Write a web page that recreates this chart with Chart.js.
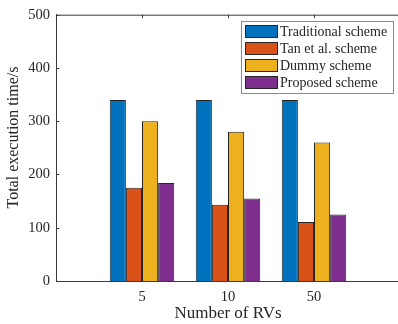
<!DOCTYPE html>
<html>
<head>
<meta charset="utf-8">
<script src="https://cdn.jsdelivr.net/npm/chart.js@4"></script>
<style>
  html, body { margin: 0; padding: 0; background: #fff; overflow: hidden; }
  #wrap { width: 407px; height: 324px; }
</style>
</head>
<body>
<div id="wrap"><canvas id="myChart" width="407" height="324"></canvas></div>
<script>
// data
const categories = ['5', '10', '50'];
const seriesNames = ['Traditional scheme', 'Tan et al. scheme', 'Dummy scheme', 'Proposed scheme'];
const traditional = [340, 340, 340];
const tanEtAl = [175, 143, 111];
const dummy = [300, 280, 260];
const proposed = [184, 155, 125];
const yTicks = [0, 100, 200, 300, 400, 500];

const colors = ['#0072BD', '#D95319', '#EDB120', '#7E2F8E'];
const axisColor = '#3a3a3a';
const textColor = '#262626';
const serif = '"Liberation Serif", "Times New Roman", serif';

// empty slots at both ends, like matlab's x limits (right end runs off the window)
const pad = arr => [null, ...arr, null];
const labels = ['', ...categories, ''];

const datasets = [traditional, tanEtAl, dummy, proposed].map((vals, i) => ({
    label: seriesNames[i],
    data: pad(vals),
    backgroundColor: colors[i],
    borderColor: '#262626',
    borderWidth: 1,
    borderSkipped: 'start',
    inflateAmount: 0,
    categoryPercentage: 0.75,
    barPercentage: 1.0,
}));

// box top line, inward ticks, y label and the boxed legend
const matlabAxes = {
    id: 'matlabAxes',
    afterDraw(chart) {
        const { ctx, chartArea: a, scales } = chart;
        ctx.save();
        ctx.strokeStyle = axisColor;
        ctx.lineWidth = 1;
        ctx.beginPath();
        ctx.moveTo(a.left, a.top + 0.5);
        ctx.lineTo(a.right, a.top + 0.5);
        yTicks.forEach(v => {
            const y = Math.round(scales.y.getPixelForValue(v)) + 0.5;
            ctx.moveTo(a.left, y);
            ctx.lineTo(a.left + 3.5, y);
        });
        categories.forEach((c, i) => {
            const x = Math.round(scales.x.getPixelForValue(i + 1)) + 0.5;
            ctx.moveTo(x, a.top);
            ctx.lineTo(x, a.top + 3.5);
        });
        ctx.stroke();

        // y label, matlab puts it a bit above the middle
        ctx.save();
        ctx.translate(13.5, 137.5);
        ctx.rotate(-Math.PI / 2);
        ctx.font = '16px ' + serif;
        ctx.fillStyle = textColor;
        ctx.textAlign = 'center';
        ctx.textBaseline = 'middle';
        ctx.fillText('Total execution time/s', 0, 0);
        ctx.restore();

        // legend
        const lx = 241.5, ly = 21.5, lw = 152, lh = 72;
        ctx.fillStyle = '#fff';
        ctx.fillRect(lx, ly, lw, lh);
        ctx.strokeStyle = '#8a8a8a';
        ctx.strokeRect(lx, ly, lw, lh);
        ctx.font = '14px ' + serif;
        ctx.textBaseline = 'middle';
        chart.data.datasets.forEach((ds, i) => {
            const y = 25 + i * 17;
            ctx.fillStyle = ds.backgroundColor;
            ctx.fillRect(245, y, 33, 13);
            ctx.strokeStyle = '#262626';
            ctx.strokeRect(245.5, y + 0.5, 32, 12);
            ctx.fillStyle = textColor;
            ctx.fillText(ds.label, 280, y + 7);
        });
        ctx.restore();
    }
};

const ctx = document.getElementById('myChart').getContext('2d');
const myChart = new Chart(ctx, {
    type: 'bar',
    data: { labels, datasets },
    options: {
        responsive: false,
        animation: false,
        layout: { padding: { top: 13, right: 0, left: 0, bottom: 0 } },
        plugins: {
            legend: { display: false },
            tooltip: { enabled: false },
        },
        scales: {
            x: {
                offset: false,
                grid: { display: false, drawTicks: false },
                border: { display: true, color: axisColor, width: 1 },
                ticks: {
                    color: textColor,
                    font: { family: serif, size: 14.5 },
                    padding: 7,
                    maxRotation: 0,
                    autoSkip: false,
                },
                title: {
                    display: true,
                    text: 'Number of RVs',
                    color: textColor,
                    font: { family: serif, size: 17 },
                    padding: { top: 0, bottom: 0 },
                },
                afterFit(scale) { scale.height = 43; },
            },
            y: {
                min: 0,
                max: 500,
                grid: { display: false, drawTicks: false },
                border: { display: true, color: axisColor, width: 1 },
                afterBuildTicks(scale) { scale.ticks = yTicks.map(v => ({ value: v })); },
                ticks: {
                    color: textColor,
                    font: { family: serif, size: 14.5 },
                    padding: 6,
                },
                afterFit(scale) { scale.width = 56; },
            }
        }
    },
    plugins: [matlabAxes]
});
</script>
</body>
</html>
